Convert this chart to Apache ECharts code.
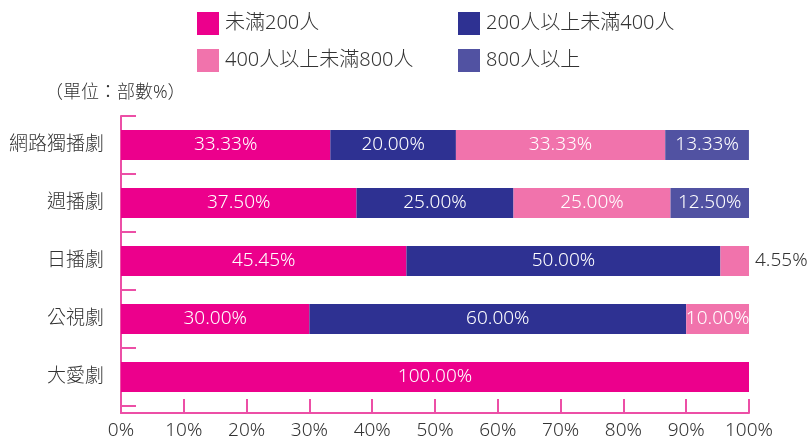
<!DOCTYPE html>
<html>
<head>
<meta charset="utf-8">
<script src="https://cdn.jsdelivr.net/npm/echarts@6/dist/echarts.min.js"></script>
<style>html,body{margin:0;padding:0;background:#fff;}#c{width:812px;height:442px;}</style>
</head>
<body>
<div id="c"></div>
<script>
var categories = ['網路獨播劇', '週播劇', '日播劇', '公視劇', '大愛劇'];
var seriesNames = ['未滿200人', '200人以上未滿400人', '400人以上未滿800人', '800人以上'];
var under200 = [33.33, 37.50, 45.45, 30.00, 100.00];
var from200to400 = [20.00, 25.00, 50.00, 60.00, 0];
var from400to800 = [33.33, 25.00, 4.55, 10.00, 0];
var over800 = [13.33, 12.50, 0, 0, 0];
var xTicks = [0, 10, 20, 30, 40, 50, 60, 70, 80, 90, 100];
var unitText = '（單位：部數%）';

var colors = ['#EC008C', '#2E3192', '#F173AC', '#5152A2'];
var axisColor = '#EC4FA6';
var font = '"Noto Sans", "Noto Sans CJK TC", sans-serif';
var cjkFont = '"Noto Sans", "Noto Sans CJK TC", sans-serif';

var chart = echarts.init(document.getElementById('c'));
var values = [under200, from200to400, from400to800, over800];

function makeSeries(i) {
  return {
    name: seriesNames[i],
    type: 'bar',
    stack: 'total',
    barWidth: 30,
    xAxisIndex: 0,
    yAxisIndex: 0,
    itemStyle: { color: colors[i] },
    data: values[i].map(function (v, j) {
      var d = { value: v };
      if (i === 2 && j === 2) {
        d.label = { position: 'right', color: '#333', distance: 6 };
      }
      return d;
    }),
    label: {
      show: true,
      position: 'inside',
      color: '#fff',
      fontFamily: font,
      fontWeight: 300,
      fontSize: 19,
      formatter: function (p) { return p.value > 0 ? p.value.toFixed(2) + '%' : ''; }
    }
  };
}

var legendText = { fontFamily: cjkFont, fontWeight: 300, fontSize: 20, color: '#333', padding: [0, 0, 0, 1] };

var option = {
  animation: false,
  backgroundColor: '#fff',
  color: colors,
  title: {
    text: unitText,
    left: 40,
    top: 79,
    textStyle: { fontFamily: cjkFont, fontWeight: 300, fontSize: 18, color: '#333' }
  },
  legend: [
    {
      data: [seriesNames[0], seriesNames[2]],
      orient: 'vertical',
      left: 192, top: 7,
      itemWidth: 22, itemHeight: 23, itemGap: 14,
      icon: 'rect',
      textStyle: legendText
    },
    {
      data: [seriesNames[1], seriesNames[3]],
      orient: 'vertical',
      left: 453, top: 7,
      itemWidth: 22, itemHeight: 23, itemGap: 14,
      icon: 'rect',
      textStyle: legendText
    }
  ],
  grid: [
    { left: 121, right: 63, top: 116, height: 290 },
    { left: 121, right: 63, top: 116, height: 297 }
  ],
  xAxis: [
    {
      gridIndex: 0,
      type: 'value',
      min: xTicks[0], max: xTicks[xTicks.length - 1], interval: 10,
      offset: 7,
      axisLine: { show: true, lineStyle: { color: axisColor, width: 2 } },
      axisTick: { show: true, inside: true, length: 14, lineStyle: { color: axisColor, width: 2 } },
      splitLine: { show: false },
      axisLabel: { formatter: '{value}%', color: '#333', fontFamily: font, fontWeight: 300, fontSize: 19, margin: 8 }
    },
    { gridIndex: 1, type: 'value', show: false, min: 0, max: 1 }
  ],
  yAxis: [
    {
      gridIndex: 0,
      type: 'category',
      data: categories,
      inverse: true,
      axisLine: { show: false },
      axisTick: { show: true, inside: true, length: 15, lineStyle: { color: axisColor, width: 2 } },
      axisLabel: { color: '#333', fontFamily: cjkFont, fontWeight: 300, fontSize: 19, margin: 17 }
    },
    {
      gridIndex: 1,
      type: 'value',
      min: 0, max: 1,
      axisLine: { show: true, lineStyle: { color: axisColor, width: 2 } },
      axisTick: { show: false },
      axisLabel: { show: false },
      splitLine: { show: false }
    }
  ],
  series: [makeSeries(0), makeSeries(1), makeSeries(2), makeSeries(3)]
};
chart.setOption(option);
</script>
</body>
</html>
